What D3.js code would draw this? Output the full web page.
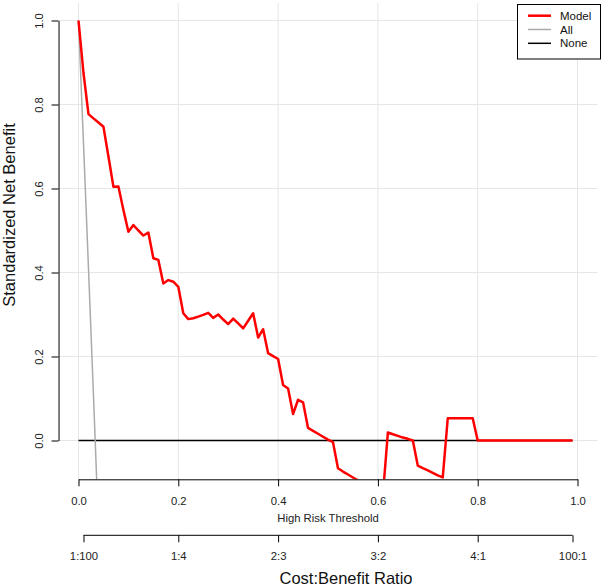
<!DOCTYPE html>
<html>
<head>
<meta charset="utf-8">
<script src="https://cdn.jsdelivr.net/npm/d3@7"></script>
<style>
  html, body { margin: 0; padding: 0; background: #fff; }
  svg { display: block; font-family: "Liberation Sans", Arial, sans-serif; }
</style>
</head>
<body>
<div id="chart"></div>
<script>
// thresholds used by the decision curve (0.00 .. 0.99, step 0.01)
const thresholds = d3.range(0, 100).map(i => i / 100);

// standardized net benefit of the model, one value per threshold
const modelValues = [
  1.000, 0.875, 0.777, 0.767, 0.757, 0.747, 0.676, 0.604, 0.605, 0.549,
  0.497, 0.513, 0.500, 0.488, 0.495, 0.434, 0.430, 0.374, 0.382, 0.378,
  0.366, 0.303, 0.289, 0.291, 0.295, 0.299, 0.304, 0.292, 0.300, 0.288,
  0.277, 0.290, 0.279, 0.267, 0.285, 0.303, 0.245, 0.265, 0.208, 0.201,
  0.194, 0.132, 0.124, 0.063, 0.097, 0.091, 0.030, 0.023, 0.016, 0.009,
  0.002, -0.004, -0.066, -0.074, -0.081, -0.088, -0.095, -0.102, -0.109, -0.116,
  -0.123, -0.130, 0.019, 0.015, 0.011, 0.007, 0.004, 0.000, -0.060, -0.066,
  -0.071, -0.077, -0.083, -0.088, 0.053, 0.053, 0.053, 0.053, 0.053, 0.053,
  0.000, 0.000, 0.000, 0.000, 0.000, 0.000, 0.000, 0.000, 0.000, 0.000,
  0.000, 0.000, 0.000, 0.000, 0.000, 0.000, 0.000, 0.000, 0.000, 0.000
];

// "treat all" curve (only the visible part, it leaves the plot quickly)
const allThresholds = [0.00, 0.01, 0.02, 0.03, 0.04];
const allValues = [1.000, 0.708, 0.410, 0.107, -0.204];

// "treat none"
const noneValues = thresholds.map(() => 0);

const xTicks = [0, 0.2, 0.4, 0.6, 0.8, 1.0];
const yTicks = [0, 0.2, 0.4, 0.6, 0.8, 1.0];
const ratioPositions = [0.01, 0.2, 0.4, 0.6, 0.8, 0.99];
const ratioLabels = ["1:100", "1:4", "2:3", "3:2", "4:1", "100:1"];

const legendNames = ["Model", "All", "None"];
const legendColors = ["#ff0000", "#aaaaaa", "#000000"];
const legendWidths = [2.5, 1.5, 1.5];

const width = 602, height = 586;

const svg = d3.select("#chart")
  .append("svg")
  .attr("width", width)
  .attr("height", height);

const x = d3.scaleLinear().domain([0, 1]).range([78.5, 577.5]);
const y = d3.scaleLinear().domain([0, 1]).range([440.5, 20.5]);

// plot region (R style 4% padding)
const px0 = x(-0.04), px1 = x(1.04);
const py0 = y(1.042), py1 = y(-0.0924);

svg.append("clipPath").attr("id", "plotClip")
  .append("rect")
  .attr("x", px0).attr("y", py0)
  .attr("width", px1 - px0).attr("height", py1 - py0);

// grid
const grid = svg.append("g").attr("stroke", "#e6e6e6").attr("stroke-width", 1);
grid.selectAll("line.v")
  .data(xTicks)
  .join("line")
  .attr("class", "v")
  .attr("x1", d => x(d)).attr("x2", d => x(d))
  .attr("y1", py0).attr("y2", py1);
grid.selectAll("line.h")
  .data(yTicks)
  .join("line")
  .attr("class", "h")
  .attr("x1", px0).attr("x2", px1)
  .attr("y1", d => y(d)).attr("y2", d => y(d));

// curves
const plot = svg.append("g").attr("clip-path", "url(#plotClip)");
const line = d3.line().x(d => x(d[0])).y(d => y(d[1]));

plot.append("path")
  .datum(thresholds.map((t, i) => [t, noneValues[i]]))
  .attr("d", line)
  .attr("fill", "none")
  .attr("stroke", "#000")
  .attr("stroke-width", 1.5);

plot.append("path")
  .datum(allThresholds.map((t, i) => [t, allValues[i]]))
  .attr("d", line)
  .attr("fill", "none")
  .attr("stroke", "#aaaaaa")
  .attr("stroke-width", 1.5);

plot.append("path")
  .datum(thresholds.map((t, i) => [t, modelValues[i]]))
  .attr("d", line)
  .attr("fill", "none")
  .attr("stroke", "#ff0000")
  .attr("stroke-width", 2.5)
  .attr("stroke-linejoin", "round");

// y axis
const yAxis = svg.append("g")
  .attr("transform", `translate(${px0},0)`)
  .call(d3.axisLeft(y).tickValues(yTicks).tickFormat(d3.format(".1f")).tickSize(7).tickSizeOuter(0));
yAxis.select(".domain").attr("stroke", "#000");
yAxis.selectAll(".tick line").attr("stroke", "#000");
yAxis.selectAll(".tick text")
  .attr("x", null).attr("dy", null)
  .attr("transform", "translate(-15.2,0) rotate(-90)")
  .attr("text-anchor", "middle")
  .attr("font-size", 11.3)
  .attr("fill", "#222");

// x axis (threshold)
const xAxis = svg.append("g")
  .attr("transform", `translate(0,${py1})`)
  .call(d3.axisBottom(x).tickValues(xTicks).tickFormat(d3.format(".1f")).tickSize(7).tickSizeOuter(0));
xAxis.selectAll(".tick text")
  .attr("y", 25.4).attr("dy", null)
  .attr("font-size", 11.3)
  .attr("fill", "#222");

svg.append("text")
  .attr("x", x(0.5)).attr("y", 521.5)
  .attr("text-anchor", "middle")
  .attr("font-size", 11.3)
  .attr("fill", "#222")
  .text("High Risk Threshold");

// second axis (cost:benefit)
const rAxis = svg.append("g")
  .attr("transform", "translate(0,535.3)")
  .call(d3.axisBottom(x).tickValues(ratioPositions).tickFormat((d, i) => ratioLabels[i]).tickSize(7).tickSizeOuter(0));
rAxis.select(".domain").remove();
rAxis.append("line")
  .attr("x1", x(ratioPositions[0])).attr("x2", x(ratioPositions[ratioPositions.length - 1]))
  .attr("stroke", "#000");
rAxis.selectAll(".tick text")
  .attr("y", 24.5).attr("dy", null)
  .attr("font-size", 11.3)
  .attr("fill", "#222");

svg.append("text")
  .attr("x", 346).attr("y", 583.5)
  .attr("text-anchor", "middle")
  .attr("font-size", 16.5)
  .attr("fill", "#111")
  .text("Cost:Benefit Ratio");

svg.append("text")
  .attr("transform", "translate(15,215) rotate(-90)")
  .attr("text-anchor", "middle")
  .attr("font-size", 16.5)
  .attr("fill", "#111")
  .text("Standardized Net Benefit");

// legend
const legend = svg.append("g");
legend.append("rect")
  .attr("x", 517.5).attr("y", 4.5)
  .attr("width", 83).attr("height", 54.5)
  .attr("fill", "#fff")
  .attr("stroke", "#000");
legendNames.forEach((name, i) => {
  const ly = 15.7 + i * 13.8;
  legend.append("line")
    .attr("x1", 528).attr("x2", 551)
    .attr("y1", ly).attr("y2", ly)
    .attr("stroke", legendColors[i])
    .attr("stroke-width", legendWidths[i]);
  legend.append("text")
    .attr("x", 560).attr("y", ly + 4)
    .attr("font-size", 11.5)
    .attr("fill", "#111")
    .text(name);
});
</script>
</body>
</html>
